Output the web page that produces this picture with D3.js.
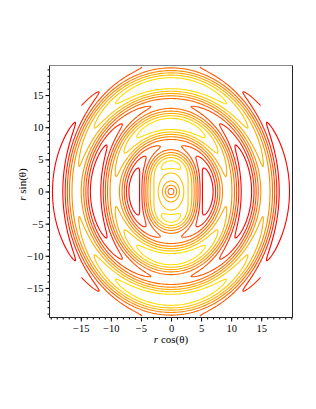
<!DOCTYPE html>
<html>
<head>
<meta charset="utf-8">
<script src="https://cdn.jsdelivr.net/npm/d3@7"></script>
<style>
  body { margin: 0; background: #fff; }
  text { font-family: "Liberation Serif", "DejaVu Serif", serif; fill: #000; }
</style>
</head>
<body>
<svg id="chart" width="316" height="409"></svg>
<script>
// plot ranges (polar grid r = 0..rMax, theta = 0..2pi)
const rMax = 20;
const contourCount = 8;
// contour colours, lowest level first
const levelColors = ["#ffdd00", "#ffc400", "#ffaa00", "#ff8c00", "#ff6e00", "#ff5000", "#ff2800", "#ff0000"];
const xTicks = [-15, -10, -5, 0, 5, 10, 15];
const yTicks = [-15, -10, -5, 0, 5, 10, 15];
const xDomain = [-20.2, 20.2];
const yDomain = [-19.6, 19.6];

// shape of the surface that is contoured
const corePhase = 1.05;   // phase at the centre
const coreDecay = 3.5;    // how fast that phase dies away
const settleWidth = 2.5;  // radius where the side phase switches on
const sidePhase = 1.15;   // extra phase towards the y axis
const offset = 0.55;      // lift on the x axis, drop on the y axis
const offsetWidth = 4;

function field(r, t) {
  const core = corePhase * Math.exp(-r / coreDecay);
  const settle = 1 - Math.exp(-Math.pow(r / settleWidth, 4));
  const lift = 1 - Math.exp(-Math.pow(r / offsetWidth, 4));
  const sn = Math.sin(t);
  const phase = r + core - sidePhase * settle * sn * sn;
  return Math.cos(phase) + offset * lift * Math.cos(2 * t);
}

const margin = { left: 49.5, right: 23.5, top: 65.5, bottom: 91.5 };
const width = 316, height = 409;
const svg = d3.select('#chart');

const x = d3.scaleLinear().domain(xDomain).range([margin.left, width - margin.right]);
const y = d3.scaleLinear().domain(yDomain).range([height - margin.bottom, margin.top]);

// polar sample grid
const nr = 201, nt = 368;
const dr = rMax / (nr - 1);
const dt = 2 * Math.PI / 360;
const t0 = -4 * dt;
const values = new Float64Array(nr * nt);
for (let j = 0; j < nt; j++) {
  for (let i = 0; i < nr; i++) {
    values[j * nr + i] = field(i * dr, t0 + j * dt);
  }
}
const [vmin, vmax] = d3.extent(values);
const levels = d3.range(1, contourCount + 1).map(k => vmin + k * (vmax - vmin) / (contourCount + 1));

const contours = d3.contours().size([nr, nt]).thresholds(levels)(values);

const toXY = p => {
  const r = (p[0] - 0.5) * dr;
  const t = t0 + (p[1] - 0.5) * dt;
  return [x(r * Math.cos(t)), y(r * Math.sin(t))];
};
const onEdge = p => p[0] <= 0 || p[0] >= nr || p[1] <= 0 || p[1] >= nt;

const line = d3.line();
const plot = svg.append('g').attr('clip-path', 'url(#box)');
svg.append('clipPath').attr('id', 'box')
  .append('rect')
  .attr('x', margin.left).attr('y', margin.top)
  .attr('width', width - margin.left - margin.right)
  .attr('height', height - margin.top - margin.bottom);

contours.forEach((c, k) => {
  const pieces = [];
  c.coordinates.forEach(poly => poly.forEach(ring => {
    let run = [];
    ring.forEach(p => {
      if (onEdge(p)) {
        if (run.length > 1) pieces.push(run);
        run = [];
      } else {
        run.push(toXY(p));
      }
    });
    if (run.length > 1) pieces.push(run);
  }));
  plot.append('path')
    .attr('d', pieces.map(line).join(''))
    .attr('fill', 'none')
    .attr('stroke', levelColors[k])
    .attr('stroke-width', 1.1);
});

// axes
const xMinor = d3.range(-20, 21);
const yMinor = d3.range(-19, 20);
const bottomY = height - margin.bottom;

svg.append('g')
  .attr('transform', `translate(0,${bottomY})`)
  .call(d3.axisBottom(x).tickValues(xMinor).tickSize(2).tickFormat(''))
  .call(g => g.select('.domain').remove());
svg.append('g')
  .attr('transform', `translate(0,${bottomY})`)
  .call(d3.axisBottom(x).tickValues(xTicks).tickSize(4).tickFormat(d => d < 0 ? '\u2212' + (-d) : d))
  .call(g => g.select('.domain').remove())
  .call(g => g.selectAll('text').attr('y', 7).style('font-size', '10.5px'));

svg.append('g')
  .attr('transform', `translate(${margin.left},0)`)
  .call(d3.axisLeft(y).tickValues(yMinor).tickSize(2).tickFormat(''))
  .call(g => g.select('.domain').remove());
svg.append('g')
  .attr('transform', `translate(${margin.left},0)`)
  .call(d3.axisLeft(y).tickValues(yTicks).tickSize(4).tickFormat(d => d < 0 ? '\u2212' + (-d) : d))
  .call(g => g.select('.domain').remove())
  .call(g => g.selectAll('text').attr('x', -6).style('font-size', '10.5px'));

// frame
const x0 = margin.left, x1 = width - margin.right, y0 = margin.top, y1 = bottomY;
svg.append('line').attr('x1', x0).attr('x2', x1).attr('y1', y0).attr('y2', y0).attr('stroke', '#888');
svg.append('line').attr('x1', x1).attr('x2', x1).attr('y1', y0).attr('y2', y1).attr('stroke', '#222');
svg.append('line').attr('x1', x0).attr('x2', x1).attr('y1', y1).attr('y2', y1).attr('stroke', '#222');
svg.append('line').attr('x1', x0).attr('x2', x0).attr('y1', y0).attr('y2', y1).attr('stroke', '#222');

// axis titles
const xt = svg.append('text')
  .attr('x', x(0)).attr('y', 343)
  .attr('text-anchor', 'middle')
  .style('font-size', '11px');
xt.append('tspan').style('font-style', 'italic').text('r');
xt.append('tspan').text(' cos(\u03b8)');

const yt = svg.append('text')
  .attr('transform', `translate(26,${y(0) - 7}) rotate(-90)`)
  .attr('text-anchor', 'middle')
  .style('font-size', '11px');
yt.append('tspan').style('font-style', 'italic').text('r');
yt.append('tspan').text(' sin(\u03b8)');
</script>
</body>
</html>
